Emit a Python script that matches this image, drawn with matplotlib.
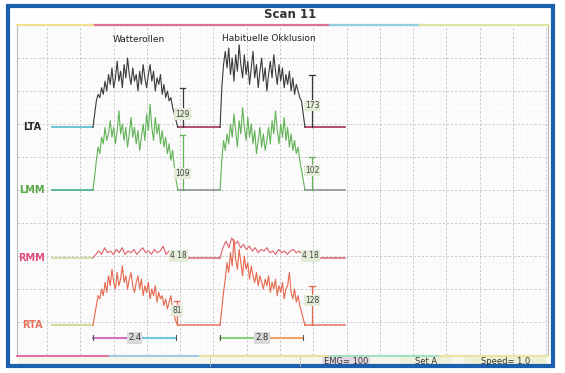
import numpy as np
import matplotlib
matplotlib.use("Agg")
import matplotlib.pyplot as plt
from matplotlib.patches import Rectangle

# channel names and baseline levels (grid divisions from bottom)
channels = ["LTA", "LMM", "RMM", "RTA"]
baselines = [6.9, 5.0, 2.95, 0.9]

# burst timing (grid divisions)
burst_starts = [1.38, 5.2]
burst_ends = [3.93, 7.75]
trace_start = 0.15
trace_end = 8.95

# amplitudes above baseline (divisions)
lta_1 = [0.0, 0.4, 0.8, 1.0, 0.9, 1.2, 1.0, 1.4, 1.1, 1.6,
         1.3, 1.8, 1.2, 1.5, 2.0, 1.4, 1.7, 1.2, 1.9, 1.5,
         2.1, 1.6, 1.3, 1.8, 1.4, 1.6, 1.1, 1.7, 1.3, 1.9,
         1.5, 1.2, 1.6, 1.9, 1.4, 1.7, 1.1, 1.5, 1.3, 1.6,
         1.0, 1.3, 0.9, 1.1, 0.8, 0.9, 0.6, 0.4, 0.2, 0.0]
lta_2 = [0.0, 1.2, 1.9, 2.3, 1.8, 2.4, 1.6, 2.1, 1.4, 2.2,
         1.7, 2.5, 1.9, 1.5, 2.2, 1.6, 2.0, 1.3, 1.8, 2.3,
         1.5, 1.9, 1.2, 1.7, 2.1, 1.4, 1.8, 1.1, 1.6, 2.0,
         1.5, 2.2, 1.7, 1.3, 1.9, 1.4, 1.8, 1.2, 1.6, 1.3,
         1.7, 1.1, 1.5, 1.0, 1.3, 1.1, 0.9, 0.8, 0.4, 0.0]
lmm_1 = [0.0, 0.4, 0.9, 1.3, 1.1, 1.6, 1.4, 1.9, 1.5, 1.7,
         2.1, 1.6, 1.9, 1.4, 1.8, 2.4, 1.7, 2.0, 1.5, 1.9,
         1.3, 1.7, 2.2, 1.6, 1.9, 1.4, 1.8, 1.2, 1.6, 2.0,
         1.5, 2.3, 1.8, 2.6, 1.9, 1.5, 2.2, 1.7, 2.0, 1.4,
         1.8, 1.3, 1.6, 1.1, 1.4, 0.9, 1.2, 0.7, 0.3, 0.0]
lmm_2 = [0.0, 0.9, 1.5, 1.2, 1.7, 1.4, 2.0, 1.6, 2.3, 1.8,
         1.3, 2.1, 1.7, 2.5, 1.9, 1.5, 2.2, 1.6, 2.0, 1.4,
         1.8, 1.1, 1.5, 1.9, 1.3, 1.7, 1.2, 1.5, 1.9, 1.4,
         2.1, 1.7, 2.4, 1.8, 1.4, 2.0, 1.6, 2.2, 1.5, 1.9,
         1.3, 1.7, 1.2, 1.5, 1.1, 1.3, 0.9, 0.6, 0.3, 0.0]
rmm_1 = [0.0, 0.1, 0.2, 0.1, 0.3, 0.15, 0.2, 0.1, 0.25, 0.15,
         0.3, 0.1, 0.2, 0.15, 0.25, 0.1, 0.2, 0.3, 0.15, 0.2,
         0.1, 0.25, 0.15, 0.2, 0.35, 0.1, 0.2, 0.15, 0.1, 0.0]
rmm_2 = [0.0, 0.3, 0.5, 0.3, 0.6, 0.4, 0.5, 0.3, 0.4, 0.25,
         0.35, 0.2, 0.3, 0.15, 0.25, 0.2, 0.3, 0.15, 0.2, 0.1,
         0.25, 0.15, 0.2, 0.1, 0.2, 0.25, 0.15, 0.2, 0.1, 0.0]
rta_1 = [0.0, 0.3, 0.6, 0.9, 0.8, 1.1, 0.9, 1.3, 1.0, 1.5,
         1.2, 1.7, 1.3, 1.1, 1.6, 1.2, 1.4, 1.8, 1.3, 1.5,
         1.1, 1.4, 1.6, 1.2, 1.0, 1.3, 1.5, 1.1, 1.4, 0.9,
         1.2, 1.0, 1.3, 0.8, 1.1, 0.9, 1.2, 0.7, 1.0, 0.8,
         0.9, 0.6, 0.8, 0.5, 0.7, 0.9, 0.5, 0.3, 0.1, 0.0]
rta_2 = [0.0, 0.5, 1.0, 1.4, 1.9, 1.6, 2.2, 1.8, 2.6, 2.0,
         1.7, 2.3, 1.9, 1.5, 2.1, 1.7, 1.9, 1.4, 1.8, 1.5,
         1.3, 1.6, 1.2, 1.5, 1.3, 1.1, 1.4, 1.2, 1.5, 1.0,
         1.3, 1.1, 1.4, 0.9, 1.2, 1.0, 1.3, 0.8, 1.1, 1.2,
         1.6, 1.0, 0.8, 1.1, 0.7, 0.9, 0.6, 0.4, 0.2, 0.0]
bursts = [[lta_1, lta_2], [lmm_1, lmm_2], [rmm_1, rmm_2], [rta_1, rta_2]]

# markers: (channel, x, height, label height, text)
markers = [
    (0, 4.08, 1.18, 0.4, "129"),
    (0, 7.96, 1.6, 0.67, "173"),
    (1, 4.08, 1.67, 0.5, "109"),
    (1, 7.96, 1.0, 0.6, "102"),
    (2, 3.95, 0.15, 0.05, "4 18"),
    (2, 7.92, 0.15, 0.05, "4 18"),
    (3, 3.9, 0.75, 0.45, "81"),
    (3, 7.96, 1.2, 0.75, "128"),
]
durations = ["2.4", "2.8"]
conditions = ["Watterollen", "Habituelle Okklusion"]

trace_colors = ["#3a3a3a", "#62b357", "#e0606a", "#e8684e"]
label_colors = ["#2a2a2a", "#5aaa4a", "#e0507a", "#e8705c"]
left_base_colors = ["#6cc4d4", "#5cb89c", "#d4dca4", "#d8d894"]
gap_colors = ["#a8305a", "#8a9696", "#e07080", "#e88070"]

W, H = 565, 373
fig = plt.figure(figsize=(W / 100, H / 100), dpi=100)
fig.patch.set_facecolor("white")


def fx(px):
    return px / W


def fy(py):
    return 1 - py / H


ax = fig.add_axes([fx(17), fy(355), fx(548) - fx(17), fy(25) - fy(355)])
ax.set_xlim(-0.9, 15.05)
ax.set_ylim(0, 10)
ax.set_facecolor("#fbfcfb")
for s in ax.spines.values():
    s.set_color("#b8b8b8")
    s.set_linewidth(0.8)
ax.set_xticks(np.arange(0, 16))
ax.set_yticks(np.arange(0, 11))
ax.set_xticks(np.arange(-0.8, 15.05, 0.2), minor=True)
ax.set_yticks(np.arange(0, 10, 0.2), minor=True)
ax.tick_params(which="both", length=0, labelbottom=False, labelleft=False)
ax.grid(True, color="#c4c4c4", linestyle=(0, (3, 2)), linewidth=0.6)
ax.grid(True, which="minor", color="#ededed", linestyle=":", linewidth=0.4)
ax.set_axisbelow(True)

for i, name in enumerate(channels):
    b = baselines[i]
    ax.plot([trace_start, burst_starts[0]], [b, b], color=left_base_colors[i], lw=1.4)
    ax.plot([burst_ends[0], burst_starts[1]], [b, b], color=gap_colors[i], lw=1.2)
    ax.plot([burst_ends[1], trace_end], [b, b], color=gap_colors[i], lw=1.2)
    for k in range(2):
        amp = np.array(bursts[i][k])
        t = np.linspace(burst_starts[k], burst_ends[k], len(amp))
        ax.plot(t, b + amp, color=trace_colors[i], lw=0.8)
    ax.text(-0.45, b, name, color=label_colors[i], fontsize=7, fontweight="bold",
            ha="center", va="center")

for ch, x, h, lh, txt in markers:
    b = baselines[ch]
    c = trace_colors[ch]
    ax.plot([x, x], [b, b + h], color=c, lw=0.9)
    ax.plot([x - 0.08, x + 0.08], [b + h, b + h], color=c, lw=0.9)
    ax.text(x, b + lh, txt, color="#444444", fontsize=5.5, ha="center", va="center",
            bbox=dict(boxstyle="square,pad=0.15", fc="#e4ecd8", ec="none"))

bar_y = 0.52
seg_colors = [("#d070c0", "#70c8e0"), ("#8ccf7a", "#f0a060")]
for k in range(2):
    s, e = burst_starts[k], burst_ends[k] - 0.05
    m = (s + e) / 2
    ax.plot([s, m], [bar_y, bar_y], color=seg_colors[k][0], lw=1.5)
    ax.plot([m, e], [bar_y, bar_y], color=seg_colors[k][1], lw=1.5)
    ax.plot([s, s], [bar_y - 0.08, bar_y + 0.08], color="#555555", lw=0.8)
    ax.plot([e, e], [bar_y - 0.08, bar_y + 0.08], color="#555555", lw=0.8)
    ax.text(m, bar_y, durations[k], fontsize=6, ha="center", va="center", color="#333333",
            bbox=dict(boxstyle="square,pad=0.15", fc="#d8d8d8", ec="none"))

ax.text((burst_starts[0] + burst_ends[0]) / 2 + 0.1, 9.55, conditions[0], fontsize=6.5,
        ha="center", va="center", color="#222222")
ax.text((burst_starts[1] + burst_ends[1]) / 2 + 0.2, 9.6, conditions[1], fontsize=6.5,
        ha="center", va="center", color="#222222")

# title and coloured rule
fig.text(fx(290), fy(15), "Scan 11", fontsize=8.5, fontweight="bold", ha="center",
         va="center", color="#333333")
rule = [(17, 95, "#f0e090"), (95, 330, "#e07090"), (330, 420, "#90d0e0"), (420, 548, "#e0e4a0")]
for x0, x1, c in rule:
    fig.add_artist(plt.Line2D([fx(x0), fx(x1)], [fy(25), fy(25)], color=c, lw=1.6))

# bottom status bar
fig.add_artist(Rectangle((fx(17), fy(366)), fx(531), fy(355) - fy(366), fc="#f4f6ec", ec="none"))
bottom_rule = [(17, 110, "#e070a0"), (110, 200, "#a0c8e8"), (200, 330, "#e8e0a0"),
               (330, 440, "#a0e0c0"), (440, 548, "#e8e4a0")]
for x0, x1, c in bottom_rule:
    fig.add_artist(plt.Line2D([fx(x0), fx(x1)], [fy(356), fy(356)], color=c, lw=1.4))
boxes = [(322, 370, "#e4d8e4", "EMG= 100"), (400, 452, "#eef0dc", "Set A"),
         (465, 546, "#eef0d4", "Speed= 1.0")]
for x0, x1, c, txt in boxes:
    fig.add_artist(Rectangle((fx(x0), fy(365)), fx(x1 - x0), fy(357) - fy(365), fc=c, ec="none"))
    fig.text(fx((x0 + x1) / 2), fy(361), txt, fontsize=6, ha="center", va="center", color="#333333")
for xs in [210, 300]:
    fig.add_artist(plt.Line2D([fx(xs), fx(xs)], [fy(357), fy(366)], color="#c0c0c0", lw=0.6))

# blue outer frame
fig.add_artist(Rectangle((fx(8), fy(366)), fx(545), fy(6) - fy(366), fill=False,
                         ec="#1c5fae", lw=3))

fig.savefig("out.png", dpi=100, facecolor="white")
